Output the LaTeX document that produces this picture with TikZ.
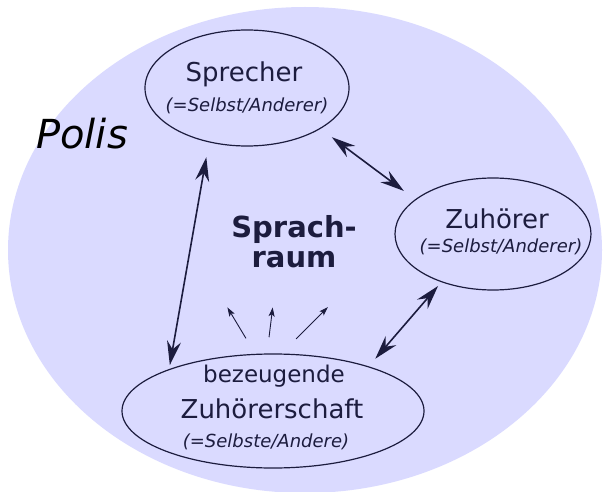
\documentclass[tikz,border=0pt]{standalone}
\usepackage{fontspec}
\setmainfont{DejaVu Sans}
\usetikzlibrary{shapes.geometric,arrows.meta,calc}
\definecolor{polisblue}{RGB}{218,218,255}
\definecolor{ink}{RGB}{28,28,62}
\tikzset{
  role/.style={draw=ink, line width=1.2pt, ellipse, inner sep=0pt},
  talk/.style={{Stealth[length=24pt,width=14pt,inset=8pt]}-{Stealth[length=24pt,width=14pt,inset=8pt]},
    draw=ink, line width=1.6pt},
  echo/.style={-{Stealth[length=9pt,width=6pt,inset=2pt]}, draw=ink, line width=0.9pt},
  word/.style={text=ink, anchor=base, inner sep=0pt},
  big/.style={font=\fontsize{26pt}{30pt}\selectfont},
  small/.style={font=\fontsize{18pt}{22pt}\selectfont\itshape}
}

\begin{document}
\begin{tikzpicture}[x=1pt,y=-1pt]
\useasboundingbox (0,0) rectangle (605,492);
\fill[polisblue] (305,250) ellipse [x radius=297, y radius=243];
\node[word, font=\fontsize{40pt}{46pt}\selectfont\itshape, text=black] (polis) at (82,149) {Polis};
% the three roles
\node[role, minimum width=204pt, minimum height=116pt] (sprecher) at (247,88) {};
\node[role, minimum width=196pt, minimum height=112pt] (zuhoerer) at (493,234) {};
\node[role, minimum width=302pt, minimum height=114pt] (zeugen) at (273,411) {};
\node[word, big] (sprname) at (244,82) {Sprecher};
\node[word, small] (sprrole) at (247,112) {(=Selbst/Anderer)};
\node[word, big] (zuhname) at (497,228) {Zuhörer};
\node[word, small] (zuhrole) at (501,252) {(=Selbst/Anderer)};
\node[word, font=\fontsize{23pt}{27pt}\selectfont] (zeugtop) at (274,382) {bezeugende};
\node[word, big] (zeugname) at (272,418) {Zuhörerschaft};
\node[word, small] (zeugrole) at (266,447) {(=Selbste/Andere)};
\node[word, font=\fontsize{29pt}{33pt}\selectfont\bfseries] (raum1) at (294,237) {Sprach-};
\node[word, font=\fontsize{29pt}{33pt}\selectfont\bfseries] (raum2) at (294,267) {raum};
% connectors
\draw[talk, shorten <=14pt, shorten >=14pt] (sprecher.-29) -- (zuhoerer.156);
\draw[talk, shorten <=15pt, shorten >=4pt] (sprecher.-125) -- (zeugen.158);
\draw[talk, shorten <=5pt, shorten >=10pt] (zuhoerer.-137) -- (zeugen.25);
\coordinate (q) at ($(zeugen)+(-8,-41)$);
\foreach \a/\s/\e in {121/37/73, 83/33/63, 45/44/89}
  \draw[echo] ($(q)+(\a:\s pt)$) -- ($(q)+(\a:\e pt)$);
\end{tikzpicture}
\end{document}
